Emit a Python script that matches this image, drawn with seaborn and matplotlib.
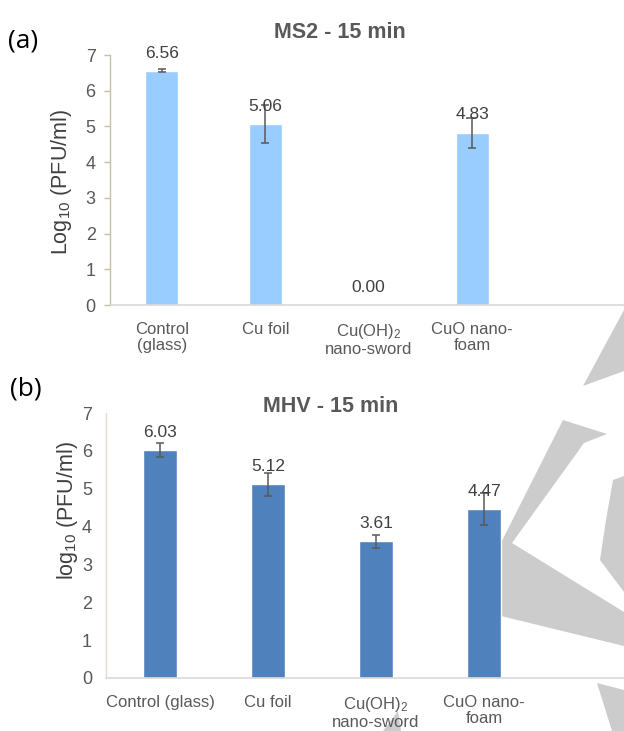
import numpy as np
import pandas as pd
import matplotlib
matplotlib.use("Agg")
import matplotlib.pyplot as plt
from matplotlib.patches import Polygon
import seaborn as sns

sns.set_style("white")
plt.rcParams['font.family'] = ['Liberation Sans', 'DejaVu Sans']
plt.rcParams['mathtext.default'] = 'regular'

# ---- data ----
cats_a = ["Control\n(glass)", "Cu foil", "Cu(OH)$_2$\nnano-sword", "CuO nano-\nfoam"]
vals_a = [6.56, 5.06, 0.00, 4.83]
errs_a = [0.04, 0.53, 0.0, 0.42]

cats_b = ["Control (glass)", "Cu foil", "Cu(OH)$_2$\nnano-sword", "CuO nano-\nfoam"]
vals_b = [6.03, 5.12, 3.61, 4.47]
errs_b = [0.18, 0.30, 0.18, 0.43]

title_a = "MS2 - 15 min"
title_b = "MHV - 15 min"
ylabel_a = "Log$_{10}$ (PFU/ml)"
ylabel_b = "log$_{10}$ (PFU/ml)"
yticks = [0, 1, 2, 3, 4, 5, 6, 7]

W, H = 624, 731
TXT = "#595959"
fig = plt.figure(figsize=(W / 100, H / 100), dpi=100)
fig.patch.set_facecolor("white")


def fx(x):
    return x / W


def fy(y):
    return 1 - y / H


# ---- background watermark shapes ----
wm_color = "#cccccc"
shapes = [
    [(624, 310), (583, 386), (624, 371)],
    [(468, 608), (563, 420), (607, 434), (584, 443), (512, 543), (624, 612), (624, 646)],
    [(613, 480), (624, 476), (624, 592), (600, 560), (606, 520)],
    [(597, 683), (624, 690), (624, 731), (612, 731)],
    [(383, 731), (398, 711), (401, 731)],
]
for s in shapes:
    fig.patches.append(Polygon([(fx(x), fy(y)) for x, y in s], closed=True,
                               transform=fig.transFigure, facecolor=wm_color,
                               edgecolor="none", zorder=-5))


def panel(rect, cats, vals, errs, color, width, title, title_xy, ylabel, ylabel_xy,
          left_spine_color, tick_len, tick_pad):
    ax = fig.add_axes(rect)
    ax.set_facecolor("none")
    df = pd.DataFrame({"cat": cats, "val": vals})
    sns.barplot(data=df, x="cat", y="val", color=color, saturation=1, width=width,
                errorbar=None, ax=ax, zorder=2)
    idx = [i for i, e in enumerate(errs) if e > 0]
    ax.errorbar([i for i in idx], [vals[i] for i in idx], yerr=[errs[i] for i in idx],
                fmt="none", ecolor="#595959", elinewidth=1.1, capsize=2.6,
                capthick=1.1, zorder=3)
    for i, v in enumerate(vals):
        ax.annotate(f"{v:.2f}", (i, v), xytext=(0, 12.7), textcoords="offset points",
                    ha="center", va="center", fontsize=12.5, color="#404040", zorder=4)
    ax.set_xlim(-0.5, 4.5)
    ax.set_ylim(0, 7)
    ax.set_yticks(yticks)
    ax.set_yticklabels([str(t) for t in yticks])
    ax.set_xlabel("")
    ax.set_ylabel("")
    for sp in ["top", "right"]:
        ax.spines[sp].set_visible(False)
    ax.spines["bottom"].set_color("#d9d9d9")
    ax.spines["bottom"].set_linewidth(1.2)
    ax.spines["left"].set_color(left_spine_color)
    ax.spines["left"].set_linewidth(1.0)
    ax.tick_params(axis="y", length=tick_len, width=1, color=left_spine_color,
                   pad=tick_pad, labelsize=13, labelcolor=TXT, left=True)
    ax.tick_params(axis="x", length=0, pad=12, labelsize=12, labelcolor=TXT)
    for lab in ax.get_xticklabels():
        lab.set_linespacing(1.1)
    fig.text(fx(title_xy[0]), fy(title_xy[1]), title, ha="center", va="center",
             fontsize=15.5, fontweight="bold", color=TXT)
    fig.text(fx(ylabel_xy[0]), fy(ylabel_xy[1]), ylabel, ha="center", va="center",
             rotation=90, fontsize=15.5, color="#404040")
    return ax


ax_a = panel([fx(110), fy(305), 517.5 / W, 250 / H], cats_a, vals_a, errs_a,
             "#99ccff", 0.32, title_a, (340, 32), ylabel_a, (62, 182),
             "#c9bf9f", 4.3, 6)
ax_b = panel([fx(106), fy(678), 540 / W, 265 / H], cats_b, vals_b, errs_b,
             "#4f81bd", 0.31, title_b, (331, 407), ylabel_b, (67, 511),
             "#e3ddc8", 0, 10)

fig.text(fx(8), fy(41), "(a)", ha="left", va="center", fontsize=19,
         family=["Open Sans", "DejaVu Sans"], color="black")
fig.text(fx(10), fy(389), "(b)", ha="left", va="center", fontsize=19,
         family=["Open Sans", "DejaVu Sans"], color="black")

fig.savefig("out.png", dpi=100)
